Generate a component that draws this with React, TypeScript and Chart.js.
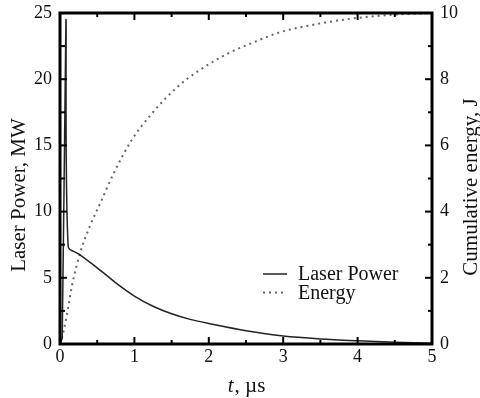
import React, { useEffect, useRef } from "react";
import { Chart, registerables } from "chart.js";

Chart.register(...registerables);

// ---- data ----
const seriesLabels = ["Laser Power", "Energy"];

const powerTime = [0, 0.03, 0.08, 0.11, 0.25, 0.5, 0.75, 1.0, 1.25, 1.5, 1.75, 2.0, 2.5, 3.0, 3.5, 4.0, 4.5, 5.0];
const powerMW = [0, 0.5, 24.5, 7.35, 6.8, 5.75, 4.62, 3.62, 2.85, 2.28, 1.86, 1.55, 1.0, 0.6, 0.38, 0.24, 0.13, 0.06];

const energyTime = [0, 0.02, 0.09, 0.16, 0.27, 0.4, 0.55, 0.72, 0.96, 1.23, 1.57, 1.86, 2.26, 2.62, 2.96, 3.49, 4.03, 4.57, 5.0];
const energyJ = [0, 0.12, 0.85, 1.75, 2.75, 3.55, 4.3, 5.15, 6.15, 6.95, 7.75, 8.25, 8.78, 9.13, 9.42, 9.68, 9.86, 9.96, 10.0];

const xRange = [0, 5];
const powerRange = [0, 25];
const energyRange = [0, 10];

const xTitleItalic = "t";
const xTitleRest = ", µs";
const leftTitle = "Laser Power, MW";
const rightTitle = "Cumulative energy, J";

const SERIF = "'Liberation Serif', 'Times New Roman', serif";

const framePlugin = {
  id: "frameTicksTitles",
  afterDatasetsDraw(chart: any) {
    const { ctx, chartArea: a, scales } = chart;
    const x = scales.x;
    const yl = scales.y;
    const yr = scales.y2;
    ctx.save();
    ctx.strokeStyle = "#000";
    ctx.lineCap = "butt";
    const seg = (x1: number, y1: number, x2: number, y2: number) => {
      ctx.beginPath();
      ctx.moveTo(x1, y1);
      ctx.lineTo(x2, y2);
      ctx.stroke();
    };
    ctx.lineWidth = 2;
    // x ticks (bottom & top), major every 1, minor every 0.5
    for (let i = 0; i <= 10; i++) {
      const v = i * 0.5;
      const px = x.getPixelForValue(v);
      const len = i % 2 === 0 ? 7 : 4;
      seg(px, a.bottom, px, a.bottom - len);
      seg(px, a.top, px, a.top + len);
    }
    // left ticks: major every 5, minor every 2.5
    for (let i = 0; i <= 10; i++) {
      const v = i * 2.5;
      const py = yl.getPixelForValue(v);
      const len = i % 2 === 0 ? 7 : 5;
      seg(a.left, py, a.left + len, py);
    }
    // right ticks: major every 2, minor every 1
    for (let i = 0; i <= 10; i++) {
      const py = yr.getPixelForValue(i);
      const len = i % 2 === 0 ? 7 : 4;
      seg(a.right, py, a.right - len, py);
    }
    // frame
    ctx.lineWidth = 3;
    ctx.strokeRect(a.left, a.top, a.right - a.left, a.bottom - a.top);

    // legend (inside the plot)
    const ds = chart.data.datasets;
    const lx = a.left + 203;
    const ly = a.top + 261;
    const rowH = 18.5;
    ctx.font = `20px ${SERIF}`;
    ctx.textBaseline = "middle";
    ctx.textAlign = "left";
    ds.forEach((d: any, i: number) => {
      const y = ly + i * rowH;
      ctx.save();
      ctx.strokeStyle = d.borderColor;
      ctx.lineWidth = d.borderWidth;
      ctx.setLineDash(d.borderDash || []);
      seg(lx, y, lx + 24, y);
      ctx.restore();
      ctx.fillStyle = "#111";
      ctx.fillText(d.label, lx + 35, y + 1);
    });

    // axis titles
    ctx.fillStyle = "#111";
    ctx.textBaseline = "middle";
    ctx.textAlign = "left";
    const cx = (a.left + a.right) / 2;
    ctx.font = `italic 21px ${SERIF}`;
    const w1 = ctx.measureText(xTitleItalic).width;
    ctx.font = `21px ${SERIF}`;
    const w2 = ctx.measureText(xTitleRest).width;
    const sx = cx - (w1 + w2) / 2;
    ctx.font = `italic 21px ${SERIF}`;
    ctx.fillText(xTitleItalic, sx, 386);
    ctx.font = `21px ${SERIF}`;
    ctx.fillText(xTitleRest, sx + w1 + 1, 386);

    ctx.textAlign = "center";
    ctx.save();
    ctx.translate(19, 195);
    ctx.rotate(-Math.PI / 2);
    ctx.fillText(leftTitle, 0, 0);
    ctx.restore();
    ctx.save();
    ctx.translate(471, 187);
    ctx.rotate(-Math.PI / 2);
    ctx.fillText(rightTitle, 0, 0);
    ctx.restore();
    ctx.restore();
  },
};

export default function App() {
  const ref = useRef<HTMLCanvasElement | null>(null);
  useEffect(() => {
    if (!ref.current) return;
    const powerData = powerTime.map((t, i) => ({ x: t, y: powerMW[i] }));
    const energyData = energyTime.map((t, i) => ({ x: t, y: energyJ[i] }));
    const tickFont = { family: SERIF, size: 18 };
    const chart = new Chart(ref.current, {
      type: "line",
      data: {
        datasets: [
          {
            label: seriesLabels[0],
            data: powerData,
            yAxisID: "y",
            borderColor: "#222",
            borderWidth: 1.5,
            pointRadius: 0,
            tension: 0.3,
            fill: false,
          },
          {
            label: seriesLabels[1],
            data: energyData,
            yAxisID: "y2",
            borderColor: "#666",
            borderWidth: 2,
            borderDash: [2, 4],
            pointRadius: 0,
            cubicInterpolationMode: "monotone",
            fill: false,
          },
        ],
      },
      options: {
        animation: false,
        responsive: true,
        maintainAspectRatio: false,
        layout: { padding: { top: 13, left: 0, right: 0, bottom: 0 } },
        plugins: { legend: { display: false }, tooltip: { enabled: false } },
        scales: {
          x: {
            type: "linear",
            min: xRange[0],
            max: xRange[1],
            ticks: { stepSize: 1, font: tickFont, color: "#111", padding: 2, maxRotation: 0 },
            grid: { display: false, drawTicks: false },
            border: { display: false },
            afterFit: (s: any) => {
              s.height = 54;
              s.paddingLeft = 0;
              s.paddingRight = 0;
            },
          },
          y: {
            type: "linear",
            position: "left",
            min: powerRange[0],
            max: powerRange[1],
            ticks: { stepSize: 5, font: tickFont, color: "#111", padding: 8 },
            grid: { display: false, drawTicks: false },
            border: { display: false },
            afterFit: (s: any) => {
              s.width = 60;
              s.paddingTop = 0;
              s.paddingBottom = 0;
            },
          },
          y2: {
            type: "linear",
            position: "right",
            min: energyRange[0],
            max: energyRange[1],
            ticks: { stepSize: 2, font: tickFont, color: "#111", padding: 8 },
            grid: { display: false, drawTicks: false },
            border: { display: false },
            afterFit: (s: any) => {
              s.width = 48;
              s.paddingTop = 0;
              s.paddingBottom = 0;
            },
          },
        },
      },
      plugins: [framePlugin],
    } as any);
    return () => chart.destroy();
  }, []);
  return (
    <div style={{ position: "fixed", left: 0, top: 0, width: 480, height: 398, background: "#fff" }}>
      <canvas ref={ref} />
    </div>
  );
}
